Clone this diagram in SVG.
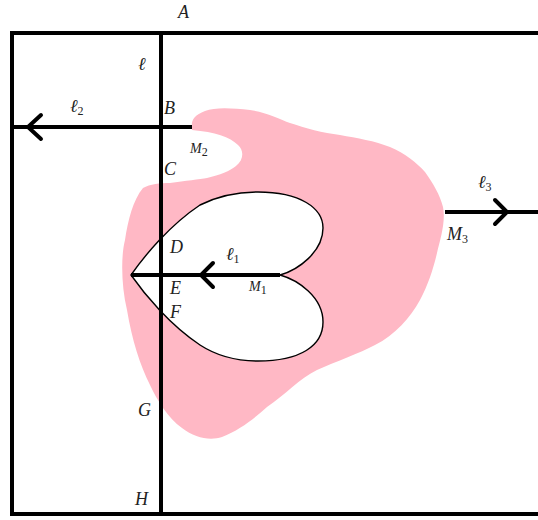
<svg xmlns="http://www.w3.org/2000/svg" width="538" height="520" viewBox="0 0 538 520">
<style>
.ln{stroke:#000;stroke-width:4;fill:none;stroke-linecap:butt}
.ah{stroke:#000;stroke-width:4;fill:none;stroke-linecap:round;stroke-linejoin:miter}
.lb{font-family:"Liberation Serif","DejaVu Serif",serif;font-style:italic;font-size:18px;fill:#222}
.sm{font-family:"Liberation Serif","DejaVu Serif",serif;font-style:italic;font-size:14px;fill:#222}
.sub{font-style:normal;font-size:12px}
</style>
<rect width="538" height="520" fill="#fff"/>
<g id="region">
<path fill="#ffb8c5" d="M192,127 C191,121 194,115 205,111 C215,107 232,108 250,110 C265,112 280,119 290,123 C305,128 323,133 340,135 C357,138 375,141 390,147 C405,153 417,163 425,172 C433,183 440,195 443,207 C446,222 440,240 437,253 C433,270 428,285 420,300 C410,318 395,335 375,345 C360,353 335,362 317,370 C300,378 285,395 267,407 C255,418 240,430 222,437 C210,441 195,438 182,428 C168,418 157,400 150,385 C140,365 132,340 127,310 C121,285 121,255 125,240 C128,220 133,200 143,188 C150,184 160,183 170,183 C185,181 200,179 207,178 C220,175 230,171 236,166 C244,160 244,150 238,145 C230,137 215,132 192,130 Z"/>
<path fill="#fff" stroke="#000" stroke-width="1.4" d="M131,275 C145,255 170,225 200,205 C220,195 240,192 258,192 C300,192 323,208 323,228 C323,252 298,270 280,275 C298,280 323,297 323,322 C323,346 300,361 258,361 C240,361 220,358 200,345 C170,325 145,295 131,275 Z"/>
</g>
<g id="frame">
<path class="ln" d="M538,33 H12 V514 H538"/>
</g>
<g id="connectors">
<line class="ln" x1="161" y1="33" x2="161" y2="514"/>
<line class="ln" x1="12" y1="127" x2="192" y2="127"/>
<path class="ah" d="M41,115 L28,127 L41,139"/>
<line class="ln" x1="445" y1="212" x2="538" y2="212"/>
<path class="ah" d="M495,200 L507,212 L495,224"/>
<line class="ln" x1="131" y1="275" x2="280" y2="275"/>
<path class="ah" d="M213,263 L201,275 L213,287"/>
</g>
<g id="labels">
<text class="lb" x="178" y="18">A</text>
<text class="lb" x="138" y="70">ℓ</text>
<text class="lb" x="70" y="112">ℓ<tspan class="sub" dy="3">2</tspan></text>
<text class="lb" x="164" y="114">B</text>
<text class="sm" x="190" y="153">M<tspan class="sub" dy="3">2</tspan></text>
<text class="lb" x="164" y="175">C</text>
<text class="lb" x="170" y="253">D</text>
<text class="lb" x="226" y="260">ℓ<tspan class="sub" dy="3">1</tspan></text>
<text class="lb" x="170" y="294">E</text>
<text class="sm" x="249" y="291">M<tspan class="sub" dy="3">1</tspan></text>
<text class="lb" x="170" y="318">F</text>
<text class="lb" x="138" y="416">G</text>
<text class="lb" x="135" y="505">H</text>
<text class="lb" x="478" y="188">ℓ<tspan class="sub" dy="3">3</tspan></text>
<text class="lb" x="447" y="240">M<tspan class="sub" dy="3">3</tspan></text>
</g>
</svg>
